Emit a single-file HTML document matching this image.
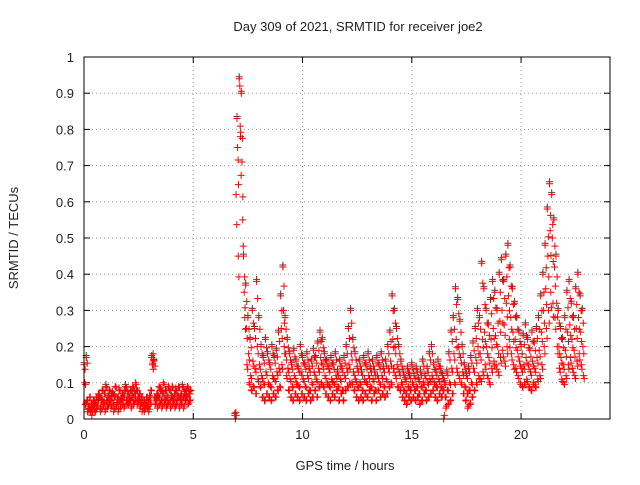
<!DOCTYPE html>
<html><head><meta charset="utf-8"><style>
html,body{margin:0;padding:0;background:#fff;}
svg text{font-family:"Liberation Sans",sans-serif;font-size:13px;fill:#222;}
</style></head><body>
<svg id="chart" width="640" height="480" viewBox="0 0 640 480" xmlns="http://www.w3.org/2000/svg">
<rect width="640" height="480" fill="#fff"/>
<text x="358" y="31" text-anchor="middle">Day 309 of 2021, SRMTID for receiver joe2</text>
<text x="345" y="470" text-anchor="middle">GPS time / hours</text>
<text transform="translate(18,238) rotate(-90)" text-anchor="middle">SRMTID / TECUs</text>
<g id="grid"></g>
<g id="axes"></g>
<g id="points"></g>
<rect x="84" y="57" width="526" height="362" fill="none" stroke="#000" stroke-width="1"/>
</svg>
<script>
const xTicks=[0,5,10,15,20];
const yTicks=[0,0.1,0.2,0.3,0.4,0.5,0.6,0.7,0.8,0.9,1];
const yTickLabels=["0","0.1","0.2","0.3","0.4","0.5","0.6","0.7","0.8","0.9","1"];
const startA=0.0;
const valsA=[[15,10,4],[17,5,2],[3,2,6],[2,4,1],[3,5,2],[4,2,6],[3,5,7],[6,3,2],[5,8,3],[4,7,2],[9,5,3],[6,4,8],[5,3,7],[7,4,2],[6,9,3],[4,6,2],[8,5,3],[5,7,4],[6,3,8],[9,5,4],[7,4,6],[5,8,3],[6,9,4],[7,5,10],[8,4,6],[5,7,3],[4,6,2],[3,5,2],[4,3,6],[3,5,2],[6,4,8],[17,15,18],[16,6,4],[5,7,3],[6,9,4],[8,5,3],[7,10,4],[5,8,3],[6,4,9],[8,5,3],[6,9,4],[5,7,3],[8,4,6],[6,9,3],[5,7,4],[9,6,3],[7,5,8],[6,9,4],[7,5,8]];
const startB=6.9;
const valsB=[[1,0,62],[83,75,45],[94,92,78],[90,71,55],[45,35,28],[37,25,15],[28,18,10],[22,12,8],[30,16,9],[25,14,7],[38,20,11],[28,15,9],[20,12,6],[17,10,5],[22,13,7],[18,10,6],[15,9,5],[20,12,7],[17,11,6],[19,13,8],[24,14,9],[34,25,15],[42,30,20],[28,18,12],[22,14,8],[18,11,6],[15,9,5],[19,12,7],[16,10,6],[14,9,5],[20,13,7],[17,11,6],[15,9,5],[18,12,7],[14,8,5],[16,10,6],[19,13,8],[17,11,6],[21,14,9],[24,17,10],[22,15,9],[18,12,7],[16,10,6],[14,9,5],[17,11,7],[15,10,6],[18,12,8],[13,9,5],[16,11,7],[14,8,5],[17,12,8],[20,14,9],[25,15,10],[30,18,10],[22,13,8],[18,11,6],[14,9,5],[16,10,6],[13,8,5],[17,11,7],[15,10,6],[18,12,8],[14,9,5],[16,11,7],[13,8,5],[17,12,8],[15,10,6],[18,12,7],[14,9,6],[16,11,7],[20,14,9],[24,16,10],[34,22,14],[30,20,12],[25,15,9],[20,13,8],[16,10,6],[13,8,5],[11,7,4],[14,9,6],[12,8,5],[15,10,6],[12,8,5],[14,9,6],[11,7,4],[13,9,5],[16,10,7],[12,8,5],[14,10,6],[18,11,7],[20,12,8],[15,10,6],[13,9,5],[16,11,7],[14,9,6],[12,8,0],[10,6,3],[13,8,4],[18,10,5],[24,14,7],[28,18,10],[36,22,14],[33,20,12],[27,17,10],[20,13,7],[15,9,5],[12,7,3],[14,8,4],[17,10,6],[21,14,8],[25,17,10],[30,20,12],[28,18,11],[43,22,13],[36,24,15],[30,20,12],[26,17,10],[33,22,14],[38,25,16],[35,23,15],[30,20,13],[40,27,17],[44,30,19],[38,26,16],[45,32,20],[48,34,22],[42,28,18],[36,24,15],[32,22,14],[28,19,12],[24,16,10],[20,14,9],[23,15,10],[26,17,11],[22,15,9],[19,13,8],[24,16,10],[21,14,9],[25,17,11],[28,19,12],[34,24,15],[40,30,20],[48,36,25],[58,45,30],[65,52,35],[62,50,32],[55,42,28],[45,32,20],[30,20,14],[25,17,11],[22,15,10],[28,19,12],[35,24,15],[38,26,17],[32,22,14],[28,19,12],[36,25,16],[40,28,18],[34,24,15],[30,20,12]];
const step=0.1;
const X0=84,X1=610,Y0=419,Y1=57,XMAX=24.07;
function xs(v){return X0+v/XMAX*(X1-X0);}
function ys(v){return Y0-v*(Y0-Y1);}
const NS="http://www.w3.org/2000/svg";
const grid=document.getElementById('grid'),axes=document.getElementById('axes'),pts=document.getElementById('points');
function mk(tag,attrs,parent){const e=document.createElementNS(NS,tag);for(const k in attrs)e.setAttribute(k,attrs[k]);parent.appendChild(e);return e;}
yTicks.forEach((v,i)=>{const y=ys(v);
 if(i>0&&i<yTicks.length-1){const g=mk('line',{x1:X0,x2:X1,y1:y,y2:y,stroke:'#999','stroke-dasharray':'1,3'},grid);
 
 }
 const t=mk('line',{x1:X0,x2:X0+6,y1:y,y2:y,stroke:'#000'},axes);
 
 
 const t2=mk('line',{x1:X1,x2:X1-6,y1:y,y2:y,stroke:'#000'},axes);
 
 
 const l=mk('text',{x:X0-10,y:y+5,'text-anchor':'end'},axes);l.textContent=yTickLabels[i];
 
 
});
xTicks.forEach(v=>{const x=xs(v);
 if(v>0){const g=mk('line',{x1:x,x2:x,y1:Y0,y2:Y1,stroke:'#999','stroke-dasharray':'1,3'},grid);
 
 }
 const t=mk('line',{x1:x,x2:x,y1:Y0,y2:Y0-6,stroke:'#000'},axes);
 
 
 const t2=mk('line',{x1:x,x2:x,y1:Y1,y2:Y1+6,stroke:'#000'},axes);
 
 
 const l=mk('text',{x:x,y:Y0+20,'text-anchor':'middle'},axes);l.textContent=String(v);
 
 
});
let d='',dg='';
function addSeg(start,vals){vals.forEach((arr,i)=>{const t=start+i*step;
 arr.forEach((v,j)=>{const x=xs(t+j*0.03),y=ys(v/100);
 d+=`M${(x-3.5).toFixed(1)},${y.toFixed(1)}h7M${x.toFixed(1)},${(y-3.5).toFixed(1)}v7`;
 const x2=xs(t+0.05+j*0.02),y2=ys((v*0.85+1)/100);
 d+=`M${(x2-3.5).toFixed(1)},${y2.toFixed(1)}h7M${x2.toFixed(1)},${(y2-3.5).toFixed(1)}v7`;
 if(j===0){dg+=`M${(x-3.5).toFixed(1)},${(y-2).toFixed(1)}h7M${x.toFixed(1)},${(y-5.5).toFixed(1)}v7`;}
 });});}
addSeg(startA,valsA);addSeg(startB,valsB);
const pg=mk('path',{d:dg,stroke:'#444','stroke-width':1,fill:'none'},pts);


const pr=mk('path',{d:d,stroke:'#f00','stroke-width':1,fill:'none'},pts);


</script>
</body></html>
